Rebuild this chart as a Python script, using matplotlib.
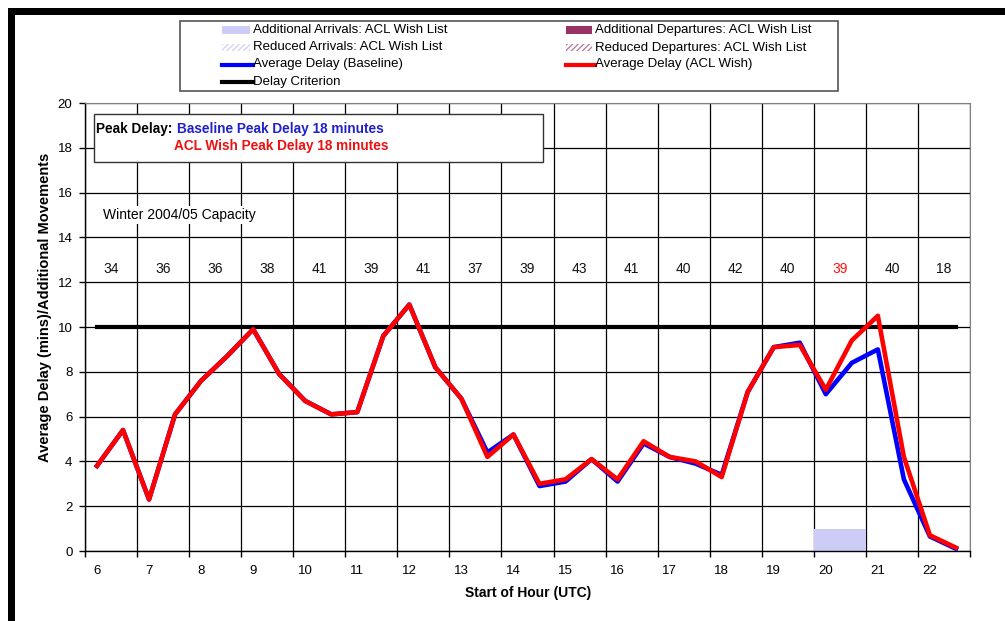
import numpy as np
import matplotlib
matplotlib.use('Agg')
import matplotlib.pyplot as plt
from matplotlib.patches import Rectangle
from matplotlib.lines import Line2D

plt.rcParams['font.family'] = ['Liberation Sans', 'DejaVu Sans']

# hours on the category axis and the half-hour sample times
hours = np.arange(6, 23)
times = np.arange(6, 22.51, 0.5)

delay_baseline = [3.8, 5.4, 2.3, 6.1, 7.6, 8.7, 9.9, 7.9, 6.7, 6.1, 6.2, 9.6,
                  11.0, 8.2, 6.8, 4.4, 5.2, 2.9, 3.1, 4.1, 3.1, 4.8, 4.2, 3.9,
                  3.4, 7.1, 9.1, 9.3, 7.0, 8.4, 9.0, 3.2, 0.65, 0.1]
delay_acl = [3.8, 5.4, 2.3, 6.1, 7.6, 8.7, 9.9, 7.9, 6.7, 6.1, 6.2, 9.6,
             11.0, 8.2, 6.8, 4.2, 5.2, 3.0, 3.2, 4.1, 3.2, 4.9, 4.2, 4.0,
             3.3, 7.1, 9.1, 9.2, 7.2, 9.4, 10.5, 4.2, 0.7, 0.15]
delay_criterion = 10

add_arrivals = [0, 0, 0, 0, 0, 0, 0, 0, 0, 0, 0, 0, 0, 0, 1, 0, 0]
capacity = [34, 36, 36, 38, 41, 39, 41, 37, 39, 43, 41, 40, 42, 40, 39, 40, 18]
capacity_colors = ['#111111'] * 14 + ['#ff1010'] + ['#111111'] * 2

shift = 0.23  # category boundaries sit a little left of the hour labels

W, H = 1005, 621
fig = plt.figure(figsize=(W / 100, H / 100), dpi=100)


def fx(x):
    return x / W


def fy(y):
    return 1 - y / H


ax = fig.add_axes([fx(85), fy(551), fx(970) - fx(85), fy(103) - fy(551)])

ax.bar(hours - shift + 0.5, add_arrivals, width=1.0, color='#ccccf7', zorder=2)
ax.plot(times, [delay_criterion] * len(times), color='black', lw=3.0, zorder=3)
ax.plot(times, delay_baseline, color='#0000ff', lw=3.3, zorder=4)
ax.plot(times, delay_acl, color='#ff0000', lw=3.3, zorder=5)

for h, c, col in zip(hours, capacity, capacity_colors):
    ax.text(h - shift + 0.5, 12.6, str(c), ha='center', va='center',
            fontsize=10, color=col)

ax.text(5.77 + 0.35, 15.0, 'Winter 2004/05 Capacity', fontsize=10, va='center',
        ha='left', bbox=dict(facecolor='white', edgecolor='none', pad=1.5), zorder=6)

ax.set_xlim(hours[0] - shift, hours[-1] + 1 - shift)
ax.set_ylim(0, 20)
ax.set_yticks(np.arange(0, 21, 2))
ax.set_xticks(np.append(hours, hours[-1] + 1) - shift)
ax.set_xticklabels([])
ax.set_xticks(hours, minor=True)
ax.set_xticklabels([str(h) for h in hours], minor=True)
ax.tick_params(axis='x', which='major', length=4, width=1, direction='out')
ax.tick_params(axis='x', which='minor', length=0, pad=10, labelsize=9.5)
ax.tick_params(axis='y', length=4, width=1, pad=5, labelsize=9.5)
ax.grid(True, which='major', color='black', lw=0.9)
ax.set_axisbelow(True)
for s in ['top', 'right']:
    ax.spines[s].set_color('#808080')
for s in ['left', 'bottom']:
    ax.spines[s].set_linewidth(1.0)

fig.text(fx(45), fy(307), 'Average Delay (mins)/Additional Movements', rotation=90,
         ha='center', va='center', fontsize=10.5, fontweight='bold')
fig.text(fx(528), fy(593), 'Start of Hour (UTC)', ha='center', va='center',
         fontsize=10, fontweight='bold')

# peak delay box
fig.add_artist(Rectangle((fx(94), fy(162)), fx(543) - fx(94), fy(114) - fy(162),
                         transform=fig.transFigure, facecolor='white',
                         edgecolor='#333333', lw=1.0, zorder=5))
fig.text(fx(96), fy(129), 'Peak Delay:', fontsize=9.8, fontweight='bold',
         va='center', zorder=6)
fig.text(fx(177), fy(129), 'Baseline Peak Delay 18 minutes', fontsize=9.8,
         fontweight='bold', color='#2020cc', va='center', zorder=6)
fig.text(fx(174), fy(146), 'ACL Wish Peak Delay 18 minutes', fontsize=9.8,
         fontweight='bold', color='#ee1111', va='center', zorder=6)

# legend
fig.add_artist(Rectangle((fx(180), fy(91)), fx(838) - fx(180), fy(21) - fy(91),
                         transform=fig.transFigure, facecolor='white',
                         edgecolor='#555555', lw=1.2))
legend_rows = [30, 47.5, 64.5, 81.5]
entries = [
    (222, 253, 0, 'patch', dict(facecolor='#ccccf7', edgecolor='none'),
     'Additional Arrivals: ACL Wish List'),
    (222, 253, 1, 'patch', dict(facecolor='white', edgecolor='#d4d4f4', hatch='//////', lw=0),
     'Reduced Arrivals: ACL Wish List'),
    (222, 253, 2, 'line', dict(color='#0000ff'), 'Average Delay (Baseline)'),
    (222, 253, 3, 'line', dict(color='black'), 'Delay Criterion'),
    (566, 595, 0, 'patch', dict(facecolor='#993366', edgecolor='none'),
     'Additional Departures: ACL Wish List'),
    (566, 595, 1, 'patch', dict(facecolor='white', edgecolor='#b880a0', hatch='//////', lw=0),
     'Reduced Departures: ACL Wish List'),
    (566, 595, 2, 'line', dict(color='#ff0000'), 'Average Delay (ACL Wish)'),
]
for x0, xt, r, kind, style, label in entries:
    y = legend_rows[r]
    if kind == 'patch':
        fig.add_artist(Rectangle((fx(x0), fy(y + 3.5)), fx(xt - 3) - fx(x0), fy(y - 3.5) - fy(y + 3.5),
                                 transform=fig.transFigure, **style))
    else:
        fig.add_artist(Line2D([fx(x0), fx(xt)], [fy(y), fy(y)], lw=3.0,
                              transform=fig.transFigure, **style))
    fig.text(fx(xt), fy(y), label, fontsize=9.5, va='center', ha='left')

# outer frame (thick black top and left edges)
fig.add_artist(Rectangle((fx(8), fy(15)), 1 - fx(8), fy(8) - fy(15),
                         transform=fig.transFigure, facecolor='black', edgecolor='none'))
fig.add_artist(Rectangle((fx(8), 0), fx(15) - fx(8), fy(8),
                         transform=fig.transFigure, facecolor='black', edgecolor='none'))

fig.savefig('out.png', dpi=100)
